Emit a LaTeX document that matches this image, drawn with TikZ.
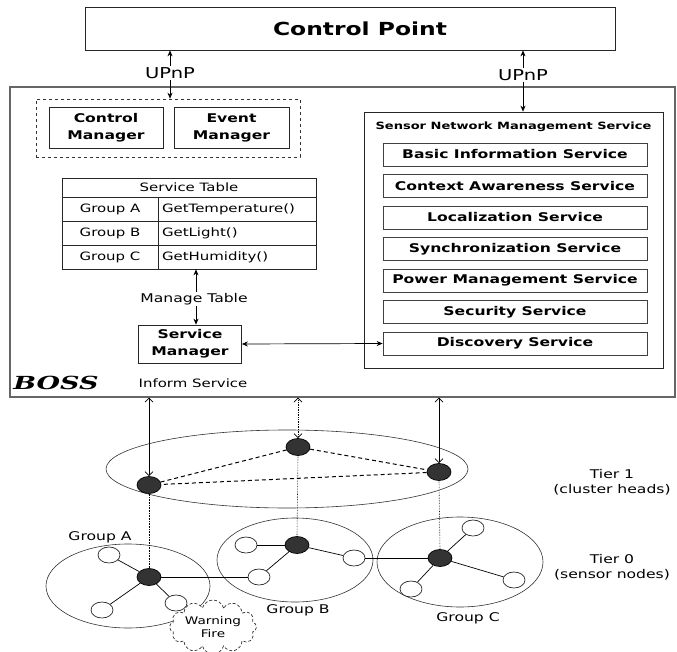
\documentclass[tikz,border=0pt]{standalone}
\usepackage{fontspec}
\setmainfont{DejaVu Sans}[FakeStretch=1.3]
\newfontfamily\bossfont{DejaVu Serif}[FakeStretch=1.5]
\usetikzlibrary{arrows.meta,shapes.geometric,shapes.symbols,calc}
\begin{document}
\begin{tikzpicture}[x=1pt,y=-1pt,
  line width=0.7pt,
  box/.style={draw=black!85, inner sep=0pt, align=center},
  bigbox/.style={draw=black!85, inner sep=0pt},
  cell/.style={draw=black!85, inner sep=0pt, minimum height=24pt, font=\fontsize{11.5}{13}\selectfont},
  svc/.style={draw=black!75, inner sep=0pt, minimum width=264pt, minimum height=23pt, font=\fontsize{12}{14}\selectfont\bfseries},
  mgr/.style={box, minimum width=114pt, minimum height=41pt, font=\fontsize{12}{17}\selectfont\bfseries},
  lbl/.style={inner sep=1pt, fill=white},
  biarrow/.style={{Stealth[length=6pt,width=5pt]}-{Stealth[length=6pt,width=5pt]}},
  barb/.style={{Straight Barb[length=4pt,width=8pt]}-{Straight Barb[length=4pt,width=8pt]}},
  head/.style={ellipse, draw=black, fill=black!80, minimum width=24pt, minimum height=17pt, inner sep=0pt},
  sensor/.style={ellipse, draw=black!85, fill=white, minimum width=22pt, minimum height=16pt, inner sep=0pt},
  region/.style={ellipse, draw=black!80, line width=0.6pt, inner sep=0pt},
  tierlbl/.style={align=center, font=\fontsize{12}{15}\selectfont},
  grplbl/.style={font=\fontsize{12}{14}\selectfont},
]
\useasboundingbox (0,0) rectangle (677,652);

% ---------- Control point ----------
\node[bigbox, minimum width=530pt, minimum height=43pt] (cp) at (350,28.5) {};
\node[font=\fontsize{18}{20}\selectfont\bfseries] (cpT) at (360,28.5) {Control Point};

% ---------- BOSS frame ----------
\node[draw=black!60, line width=1.2pt, inner sep=0pt, minimum width=665pt, minimum height=310pt] (boss) at (342.5,242) {};
\node[font=\bossfont\fontsize{18}{20}\selectfont\bfseries\itshape] (bosslbl) at (56,383) {BOSS};
\node[font=\fontsize{11.5}{13}\selectfont] (inform) at (193,383) {Inform Service};

% managers
\node[draw=black!80, dashed, line width=0.6pt, inner sep=0pt, minimum width=264pt, minimum height=58pt] (mgrs) at (168,128) {};
\node[mgr] (cm) at (106,127.5) {Control\\Manager};
\node[mgr, minimum width=115pt] (em) at (231.5,127.5) {Event\\Manager};

% service table
\node[cell, minimum width=254pt, minimum height=19pt] (th) at (189,187.5) {Service Table};
\node[cell, minimum width=96pt] (gA) at (110,209) {Group A};
\node[cell, minimum width=158pt, text width=150pt, align=left] (fA) at (237,209) {GetTemperature()};
\node[cell, minimum width=96pt] (gB) at (110,233) {Group B};
\node[cell, minimum width=158pt, text width=150pt, align=left] (fB) at (237,233) {GetLight()};
\node[cell, minimum width=96pt] (gC) at (110,257) {Group C};
\node[cell, minimum width=158pt, text width=150pt, align=left] (fC) at (237,257) {GetHumidity()};

% service manager
\node[mgr, minimum width=103pt, minimum height=38pt] (sm) at (190,344) {Service\\Manager};
\coordinate (mt) at (196,0);
\draw[biarrow] (fC.south -| mt) -- (sm.north -| mt);
\node[lbl, font=\fontsize{12}{14}\selectfont] (mtl) at (194,299) {Manage Table};

% sensor network management service
\node[bigbox, minimum width=299pt, minimum height=256pt] (snms) at (513.5,240) {};
\node[font=\fontsize{10}{12}\selectfont\bfseries] (snmsT) at (513.5,127) {Sensor Network Management Service};
\node[svc] (s1) at (515,154.5) {Basic Information Service};
\node[svc] (s2) at (515,186) {Context Awareness Service};
\node[svc] (s3) at (515,217.5) {Localization Service};
\node[svc] (s4) at (515,249) {Synchronization Service};
\node[svc] (s5) at (515,280.5) {Power Management Service};
\node[svc] (s6) at (515,312) {Security Service};
\node[svc] (s7) at (515,343.5) {Discovery Service};
\draw[biarrow] (sm.east) -- (s7.west);

% UPnP links
\coordinate (upL) at (170,0);
\coordinate (upR) at (523,0);
\draw[biarrow] (cp.south -| upL) -- (mgrs.north -| upL);
\draw[biarrow] (cp.south -| upR) -- (snms.north -| upR);
\node[lbl, font=\fontsize{15}{17}\selectfont] (upLl) at (170,73) {UPnP};
\node[lbl, font=\fontsize{15}{17}\selectfont] (upRl) at (523,75) {UPnP};

% ---------- sensor network ----------
\node[region, minimum width=362pt, minimum height=78pt] (tier1) at (287,469) {};
\node[region, minimum width=164pt, minimum height=84pt] (grpA) at (128,586) {};
\node[region, minimum width=156pt, minimum height=84pt] (grpB) at (295,560) {};
\node[region, minimum width=166pt, minimum height=90pt] (grpC) at (460,562) {};

% cluster heads, tier 1
\node[head] (h1A) at (149,485) {};
\node[head] (h1B) at (298,447) {};
\node[head] (h1C) at (439,472) {};
% cluster heads, tier 0
\node[head] (h0A) at (149,577) {};
\node[head] (h0B) at (297,545) {};
\node[head] (h0C) at (440,558) {};

% sensors
\node[sensor] (a1) at (109,555) {};
\node[sensor] (a2) at (102,610) {};
\node[sensor] (b1) at (246,545) {};
\node[sensor] (b2) at (354,558) {};
\node[sensor] (b3) at (259,577) {};
\node[sensor] (c1) at (473,528) {};
\node[sensor] (c2) at (514,580) {};
\node[sensor] (c3) at (411,589) {};

% warning
\node[cloud, cloud puffs=12, aspect=2, draw=black!80, densely dashed, fill=white, minimum width=87pt, minimum height=43pt, inner sep=0pt, align=center, font=\fontsize{10.5}{13}\selectfont] (warn) at (213,627) {Warning\\Fire};
\node[sensor] (a3) at (176,603) {};

% links to BOSS
\draw[barb] (boss.south -| h1A) -- (h1A.north);
\draw[barb, densely dotted] (boss.south -| h1B) -- (h1B.north);
\draw[barb] (boss.south -| h1C) -- (h1C.north);

% tier 1 to tier 0
\draw[densely dotted, line width=0.6pt] (h1A.south) -- (h0A.north);
\draw[densely dotted, line width=0.6pt] (h1B.south) -- (h0B.north);
\draw[densely dotted, line width=0.6pt] (h1C.south) -- (h0C.north);

% cluster head mesh
\draw[line width=1pt, dash pattern=on 4pt off 3pt] (h1A) -- (h1B) -- (h1C) -- (h1A);

% tier 0 links
\draw (h0A) -- (a1);
\draw (h0A) -- (a2);
\draw (h0A) -- (a3);
\draw (h0A) -- (b3);
\draw (h0B) -- (b1);
\draw (h0B) -- (b2);
\draw (h0B) -- (b3);
\draw (b2) -- (h0C);
\draw (h0C) -- (c1);
\draw (h0C) -- (c2);
\draw (h0C) -- (c3);

% labels
\node[grplbl] (gAl) at (100,537) {Group A};
\node[grplbl] (gBl) at (298,610) {Group B};
\node[grplbl] (gCl) at (468,618) {Group C};
\node[tierlbl] (t1l) at (612,482.5) {Tier 1\\(cluster heads)};
\node[tierlbl] (t0l) at (612,567.5) {Tier 0\\(sensor nodes)};
\end{tikzpicture}
\end{document}
